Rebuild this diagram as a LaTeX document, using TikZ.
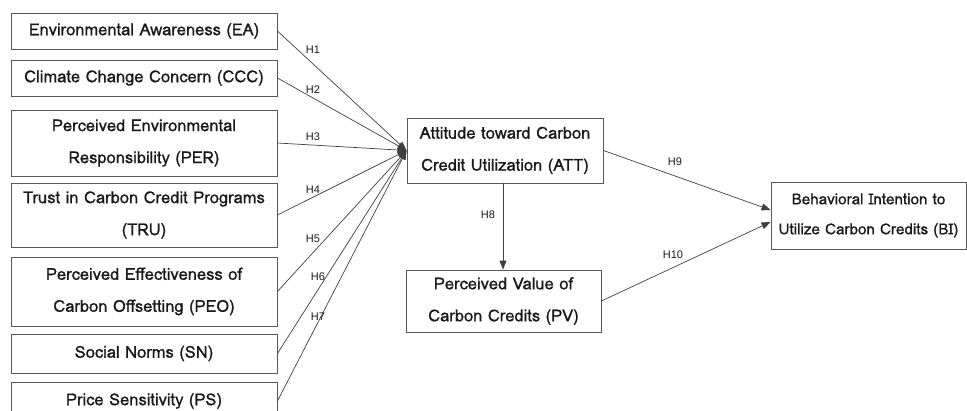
\documentclass[tikz,border=0pt]{standalone}
\usepackage{fontspec}
\setmainfont{Liberation Sans}
\newfontfamily\boxfont[FakeBold=0.9]{Loma}
\usetikzlibrary{arrows.meta}
\tikzset{
  cbox/.style={draw=black!65, line width=0.9pt, rectangle, align=center, inner sep=0pt,
    font=\boxfont\fontsize{16.5}{32}\selectfont, text=black!90},
  hlab/.style={font=\fontsize{11}{13}\selectfont, text=black!90, inner sep=1pt},
  link/.style={draw=black!75, line width=0.7pt, -{Triangle[length=9pt,width=7pt]}}
}
\begin{document}
\begin{tikzpicture}[x=1pt,y=-1pt]
\useasboundingbox (0,0) rectangle (967,411);
% left constructs
\node[cbox, minimum width=266pt, minimum height=36pt] (EA) at (144,31) {Environmental Awareness (EA)};
\node[cbox, minimum width=266pt, minimum height=36pt] (CCC) at (144,78) {Climate Change Concern (CCC)};
\node[cbox, minimum width=266pt, minimum height=66pt] (PER) at (144,143) {Perceived Environmental\\Responsibility (PER)};
\node[cbox, minimum width=266pt, minimum height=64pt] (TRU) at (144,215) {Trust in Carbon Credit Programs\\(TRU)};
\node[cbox, minimum width=266pt, minimum height=69pt] (PEO) at (144,291.5) {Perceived Effectiveness of\\Carbon Offsetting (PEO)};
\node[cbox, minimum width=266pt, minimum height=39pt] (SN) at (144,353.5) {Social Norms (SN)};
\node[cbox, minimum width=266pt, minimum height=38pt] (PS) at (144,401) {Price Sensitivity (PS)};
% middle and right
\node[cbox, minimum width=196pt, minimum height=65pt] (ATT) at (505,150.5) {Attitude toward Carbon\\Credit Utilization (ATT)};
\node[cbox, minimum width=195pt, minimum height=62pt] (PV) at (503.5,301) {Perceived Value of\\Carbon Credits (PV)};
\node[cbox, minimum width=195pt, minimum height=67pt, font=\boxfont\fontsize{15.2}{30}\selectfont] (BI) at (868.5,215.5) {Behavioral Intention to\\Utilize Carbon Credits (BI)};
\coordinate (BIa) at ([yshift=5.5pt]BI.west);
\coordinate (BIb) at ([yshift=-6.5pt]BI.west);
% links
\foreach \s in {EA,CCC,PER,TRU,PEO,SN,PS} { \draw[link] (\s.east) -- (ATT.west); }
\draw[link] (ATT.south -| 503,0) -- (PV.north -| 503,0);
\draw[link] (ATT.east) -- (BIa);
\draw[link] (PV.east) -- (BIb);
% hypothesis labels
\node[hlab] (h1) at (313,50) {H1};
\node[hlab] (h2) at (313,90) {H2};
\node[hlab] (h3) at (313,137) {H3};
\node[hlab] (h4) at (313,190) {H4};
\node[hlab] (h5) at (313,239) {H5};
\node[hlab] (h6) at (318,277) {H6};
\node[hlab] (h7) at (318,317) {H7};
\node[hlab] (h8) at (488,215) {H8};
\node[hlab] (h9) at (675,162) {H9};
\node[hlab] (h10) at (673,255) {H10};
\end{tikzpicture}
\end{document}
